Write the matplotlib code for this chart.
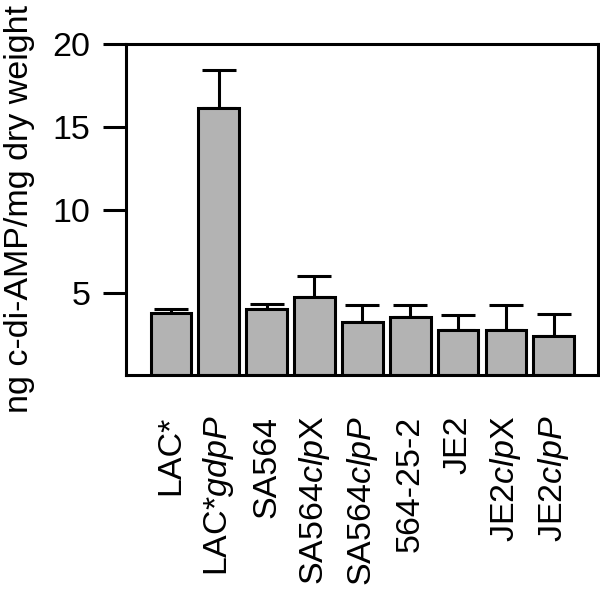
import matplotlib
matplotlib.use("Agg")
import matplotlib.pyplot as plt
import numpy as np

plt.rcParams['font.family'] = ['Liberation Sans', 'DejaVu Sans']
plt.rcParams['mathtext.fontset'] = 'custom'
plt.rcParams['mathtext.rm'] = 'Liberation Sans'
plt.rcParams['mathtext.it'] = 'Liberation Sans:italic'

strains = ['LAC*', r'LAC*$\it{gdpP}$', 'SA564', r'SA564$\it{clp}$X',
           r'SA564$\it{clpP}$', '564-25-2', 'JE2', r'JE2$\it{clp}$X',
           r'JE2$\it{clpP}$']
means = [3.77, 16.15, 4.0, 4.72, 3.2, 3.5, 2.76, 2.76, 2.39]
errors = [0.24, 2.3, 0.3, 1.31, 1.07, 0.77, 0.91, 1.51, 1.29]

fig = plt.figure(figsize=(6, 5.94), dpi=100)
ax = fig.add_axes([0.21, 0.368, 0.787, 0.5575])

x = np.arange(len(strains))
lw = 2.2
fs = 24.5
ax.bar(x, means, width=0.85, color='#b3b3b3', edgecolor='black',
       linewidth=lw, zorder=2)
ax.errorbar(x, means, yerr=[np.zeros(len(means)), errors], fmt='none',
            ecolor='black', elinewidth=lw, capsize=12, capthick=lw,
            zorder=1)

ax.set_xlim(-0.94, 8.93)
ax.set_ylim(0, 20)
ax.set_yticks([5, 10, 15, 20])
ax.set_xticks(x)
ax.set_xticklabels(strains, rotation=90, rotation_mode='anchor',
                   fontsize=fs, ha='right', va='center')
ax.tick_params(axis='x', length=0, pad=29)
ax.tick_params(axis='y', length=16.5, width=lw, labelsize=fs, pad=9)
for s in ax.spines.values():
    s.set_linewidth(lw)

fig.text(0.032, 0.648, 'ng c-di-AMP/mg dry weight', rotation=90,
         fontsize=fs, ha='center', va='center')

fig.savefig('out.png', dpi=100)
